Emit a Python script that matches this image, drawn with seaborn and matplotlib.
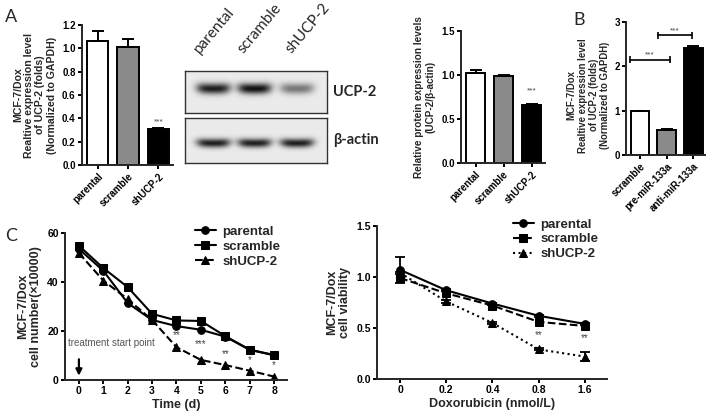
import numpy as np
import pandas as pd
import matplotlib
matplotlib.use("Agg")
import matplotlib.pyplot as plt
import seaborn as sns

# ── data ─────────────────────────────────────────────────────────────────────
groups        = ["parental", "scramble", "shUCP-2"]
mrna_mean     = [1.06, 1.01, 0.31]
mrna_sem      = [0.09, 0.07, 0.01]
protein_mean  = [1.02, 0.99, 0.66]
protein_sem   = [0.04, 0.015, 0.005]
mir_groups    = ["scramble", "pre-miR-133a", "anti-miR-133a"]
mir_mean      = [0.99, 0.57, 2.42]
mir_sem       = [0.01, 0.02, 0.04]

blot_lanes    = ["parental", "scramble", "shUCP-2"]
ucp2_band     = [0.80, 0.85, 0.45]
actin_band    = [0.80, 0.80, 0.80]

days          = [0, 1, 2, 3, 4, 5, 6, 7, 8]
cell_parental = [53.5, 44.6, 31.4, 24.5, 22.0, 20.5, 17.7, 12.3, 10.1]
cell_scramble = [54.8, 45.7, 37.9, 27.0, 24.3, 24.1, 17.9, 12.4, 10.2]
cell_shucp2   = [51.8, 40.6, 33.0, 24.5, 13.4, 8.2, 6.1, 3.8, 1.4]
cell_stars    = ["", "", "", "", "**", "***", "**", "*", "*"]
cell_star_y   = [0, 0, 0, 0, 17.0, 13.6, 9.5, 6.8, 4.8]

dox_labels    = ["0", "0.2", "0.4", "0.8", "1.6"]
via_parental  = [1.07, 0.87, 0.74, 0.62, 0.54]
via_par_sem   = [0.13, 0.01, 0.01, 0.01, 0.01]
via_scramble  = [0.99, 0.84, 0.72, 0.56, 0.52]
via_shucp2    = [1.04, 0.76, 0.55, 0.29, 0.22]
via_sh_sem    = [0.01, 0.01, 0.01, 0.01, 0.04]
via_stars     = ["", "", "", "**", "**"]
via_star_y    = [0, 0, 0, 0.40, 0.37]

W, H = 709, 416
sns.set_style("ticks")
plt.rcParams["font.family"] = ["Liberation Sans", "DejaVu Sans"]
plt.rcParams["font.weight"] = "bold"
plt.rcParams["axes.labelweight"] = "bold"
plt.rcParams["axes.linewidth"] = 1.4
plt.rcParams["xtick.major.width"] = 1.4
plt.rcParams["ytick.major.width"] = 1.4
plt.rcParams["xtick.major.size"] = 3
plt.rcParams["ytick.major.size"] = 3
plt.rcParams["xtick.major.pad"] = 1.5
plt.rcParams["ytick.major.pad"] = 1.5

fig = plt.figure(figsize=(W / 100, H / 100), dpi=100)
fig.patch.set_facecolor("white")


def px_axes(x0, y0, x1, y1):
    return fig.add_axes([x0 / W, 1 - y1 / H, (x1 - x0) / W, (y1 - y0) / H])


def prism(ax, size=7):
    sns.despine(ax=ax)
    ax.tick_params(colors="black", labelsize=size)


def bar_panel(ax, labels, means, sems, ylim, yticks, yfmt, ylabel, lsize):
    df = pd.DataFrame({"group": labels, "value": means})
    sns.barplot(data=df, x="group", y="value", hue="group",
                palette=["white", "#8a8a8a", "black"], edgecolor="black",
                linewidth=1.4, width=0.7, ax=ax, legend=False)
    ax.errorbar(range(len(means)), means, yerr=[np.zeros(len(sems)), sems],
                fmt="none", ecolor="black", elinewidth=1.4, capsize=4, capthick=1.4)
    ax.set_ylim(*ylim)
    ax.set_xlim(-0.52, 2.48)
    ax.set_yticks(yticks)
    ax.set_yticklabels([yfmt.format(v) for v in yticks])
    ax.set_xticks(range(len(labels)))
    ax.set_xticklabels(labels, rotation=45, ha="right", rotation_mode="anchor", fontsize=6.5)
    ax.set_xlabel("")
    ax.set_ylabel(ylabel, fontsize=lsize, linespacing=1.15)
    prism(ax)


# ── A: mRNA ──────────────────────────────────────────────────────────────────
ax1 = px_axes(82, 25, 173, 165)
bar_panel(ax1, groups, mrna_mean, mrna_sem, (0, 1.2), np.arange(0, 1.21, 0.2), "{:.1f}",
          "MCF-7/Dox\nRealtive expression level\nof UCP-2 (folds)\n(Normalized to GAPDH)", 7.6)
ax1.text(2, 0.36, "***", ha="center", fontsize=6, color="#444444", fontweight="normal")

# ── A: western blot ─────────────────────────────────────────────────────────
xs = np.linspace(0, 1, 284)
ys = np.linspace(0, 1, 90)
gx, gy = np.meshgrid(xs, ys)
lane_x = [0.2, 0.49, 0.79]


def blot_img(bands, cy, wy):
    img = np.full(gx.shape, 0.92)
    for cx, a in zip(lane_x, bands):
        shape = np.exp(-(np.abs(gx - cx) / 0.12) ** 4)
        yc = cy - 0.06 * ((gx - cx) / 0.12) ** 2 * 0.3
        img -= a * shape * np.exp(-((gy - yc) / wy) ** 2)
    return np.clip(img, 0, 1)


for (y0, y1), bands, cy, wy, name, ty in [((71, 113), ucp2_band, 0.42, 0.13, "UCP-2", 92),
                                          ((118, 163), actin_band, 0.56, 0.10, "β-actin", 140)]:
    bx = px_axes(185, y0, 327, y1)
    bx.imshow(blot_img(bands, cy, wy), cmap="gray", vmin=0, vmax=1, aspect="auto")
    bx.set_xticks([])
    bx.set_yticks([])
    for s in bx.spines.values():
        s.set_linewidth(1.0)
        s.set_color("#333333")
    fig.text(333 / W, 1 - ty / H, name, fontsize=10.5, fontweight="bold",
             family=["Lato", "DejaVu Sans"], va="center", ha="left")

for sx, lab in zip([202, 246, 294], blot_lanes):
    fig.text(sx / W, 1 - 56 / H, lab, rotation=50, fontsize=11,
             fontweight="normal", family=["Lato", "DejaVu Sans"], ha="left", va="bottom",
             rotation_mode="anchor")

# ── A: protein quantification ───────────────────────────────────────────────
ax3 = px_axes(461, 31, 545, 163)
bar_panel(ax3, groups, protein_mean, protein_sem, (0, 1.5), [0, 0.5, 1.0, 1.5], "{:.1f}",
          "Relative protein expression levels\n(UCP-2/β-actin)", 7.2)
ax3.text(2, 0.80, "***", ha="center", fontsize=6, color="#444444", fontweight="normal")

# ── B ───────────────────────────────────────────────────────────────────────
axb = px_axes(626, 22, 705, 155)
bar_panel(axb, mir_groups, mir_mean, mir_sem, (0, 3), [0, 1, 2, 3], "{:d}",
          "MCF-7/Dox\nRealtive expression level\nof UCP-2 (folds)\n(Normalized to GAPDH)", 6.9)
axb.yaxis.set_label_coords(-0.2, 0.45)
axb.set_xlim(-0.52, 2.43)
for (xa, xb, yb) in [(-0.37, 1.14, 2.15), (0.69, 1.93, 2.7)]:
    axb.errorbar([xa, xb], [yb, yb], yerr=0.08, color="black", lw=1.2,
                 capsize=0, fmt="none", elinewidth=1.2)
    axb.plot([xa, xb], [yb, yb], color="black", lw=1.2)
    axb.text((xa + xb) / 2, yb + 0.07, "***", ha="center", fontsize=6,
             color="#444444", fontweight="normal")

# ── C: cell number ──────────────────────────────────────────────────────────
axc = px_axes(65, 233, 287, 380)
for vals, lab, mk, ls in [(cell_parental, "parental", "o", "-"),
                          (cell_scramble, "scramble", "s", "-"),
                          (cell_shucp2, "shUCP-2", "^", "--")]:
    sns.lineplot(x=days, y=vals, ax=axc, color="black", marker=mk, markersize=5.5,
                 linestyle=ls, linewidth=1.5, markeredgecolor="black", label=lab)
for d, s, y in zip(days, cell_stars, cell_star_y):
    if s:
        axc.text(d, y, s, ha="center", fontsize=7, color="#444444", fontweight="normal")
axc.set_xlim(-0.57, 8.53)
axc.set_ylim(0, 60)
axc.set_yticks([0, 20, 40, 60])
axc.set_xticks(days)
axc.set_xlabel("Time (d)", fontsize=9, labelpad=2)
axc.set_ylabel("MCF-7/Dox\ncell number(×10000)", fontsize=9, linespacing=1.1)
axc.text(-0.45, 13, "treatment start point", fontsize=7, color="#555555",
         fontweight="normal", va="bottom")
axc.annotate("", xy=(0, 0.6), xytext=(0, 9.6),
             arrowprops=dict(arrowstyle="-|>", color="black", lw=1.6, mutation_scale=9))
axc.legend(loc="upper left", bbox_to_anchor=(0.585, 1.05), frameon=False,
           handlelength=1.6, handletextpad=0.5, labelspacing=0.2, borderpad=0,
           borderaxespad=0, prop={"weight": "bold", "size": 9.5})
prism(axc, 7.5)
fig.text(5 / W, 1 - 236 / H, "C", fontsize=13, fontweight="normal",
         family=["Lato", "DejaVu Sans"], va="center")

# ── D: viability ────────────────────────────────────────────────────────────
axd = px_axes(377, 226, 607, 379)
pos = np.arange(len(dox_labels))
for vals, sem, lab, mk, ls in [(via_parental, via_par_sem, "parental", "o", "-"),
                               (via_scramble, None, "scramble", "s", "--"),
                               (via_shucp2, via_sh_sem, "shUCP-2", "^", ":")]:
    sns.lineplot(x=pos, y=vals, ax=axd, color="black", marker=mk, markersize=5.5,
                 linestyle=ls, linewidth=1.5, markeredgecolor="black", label=lab)
    if sem is not None:
        axd.errorbar(pos, vals, yerr=sem, fmt="none", ecolor="black",
                     elinewidth=1.3, capsize=3.5, capthick=1.3)
for p, s, y in zip(pos, via_stars, via_star_y):
    if s:
        axd.text(p, y, s, ha="center", fontsize=7, color="#444444", fontweight="normal")
axd.set_xlim(-0.5, 4.48)
axd.set_ylim(0, 1.5)
axd.set_yticks([0, 0.5, 1.0, 1.5])
axd.set_yticklabels(["0.0", "0.5", "1.0", "1.5"])
axd.set_xticks(pos)
axd.set_xticklabels(dox_labels)
axd.set_xlabel("Doxorubicin (nmol/L)", fontsize=9, labelpad=2)
axd.set_ylabel("MCF-7/Dox\ncell viability", fontsize=9, linespacing=1.1)
axd.legend(loc="upper left", bbox_to_anchor=(0.59, 1.05), frameon=False,
           handlelength=1.6, handletextpad=0.5, labelspacing=0.2, borderpad=0,
           borderaxespad=0, prop={"weight": "bold", "size": 9.5})
prism(axd, 7.5)

fig.text(5 / W, 1 - 17 / H, "A", fontsize=13, fontweight="normal",
         family=["Lato", "DejaVu Sans"], va="center")
fig.text(573 / W, 1 - 20 / H, "B", fontsize=13, fontweight="normal",
         family=["Lato", "DejaVu Sans"], va="center")

fig.savefig("out.png", dpi=100)
